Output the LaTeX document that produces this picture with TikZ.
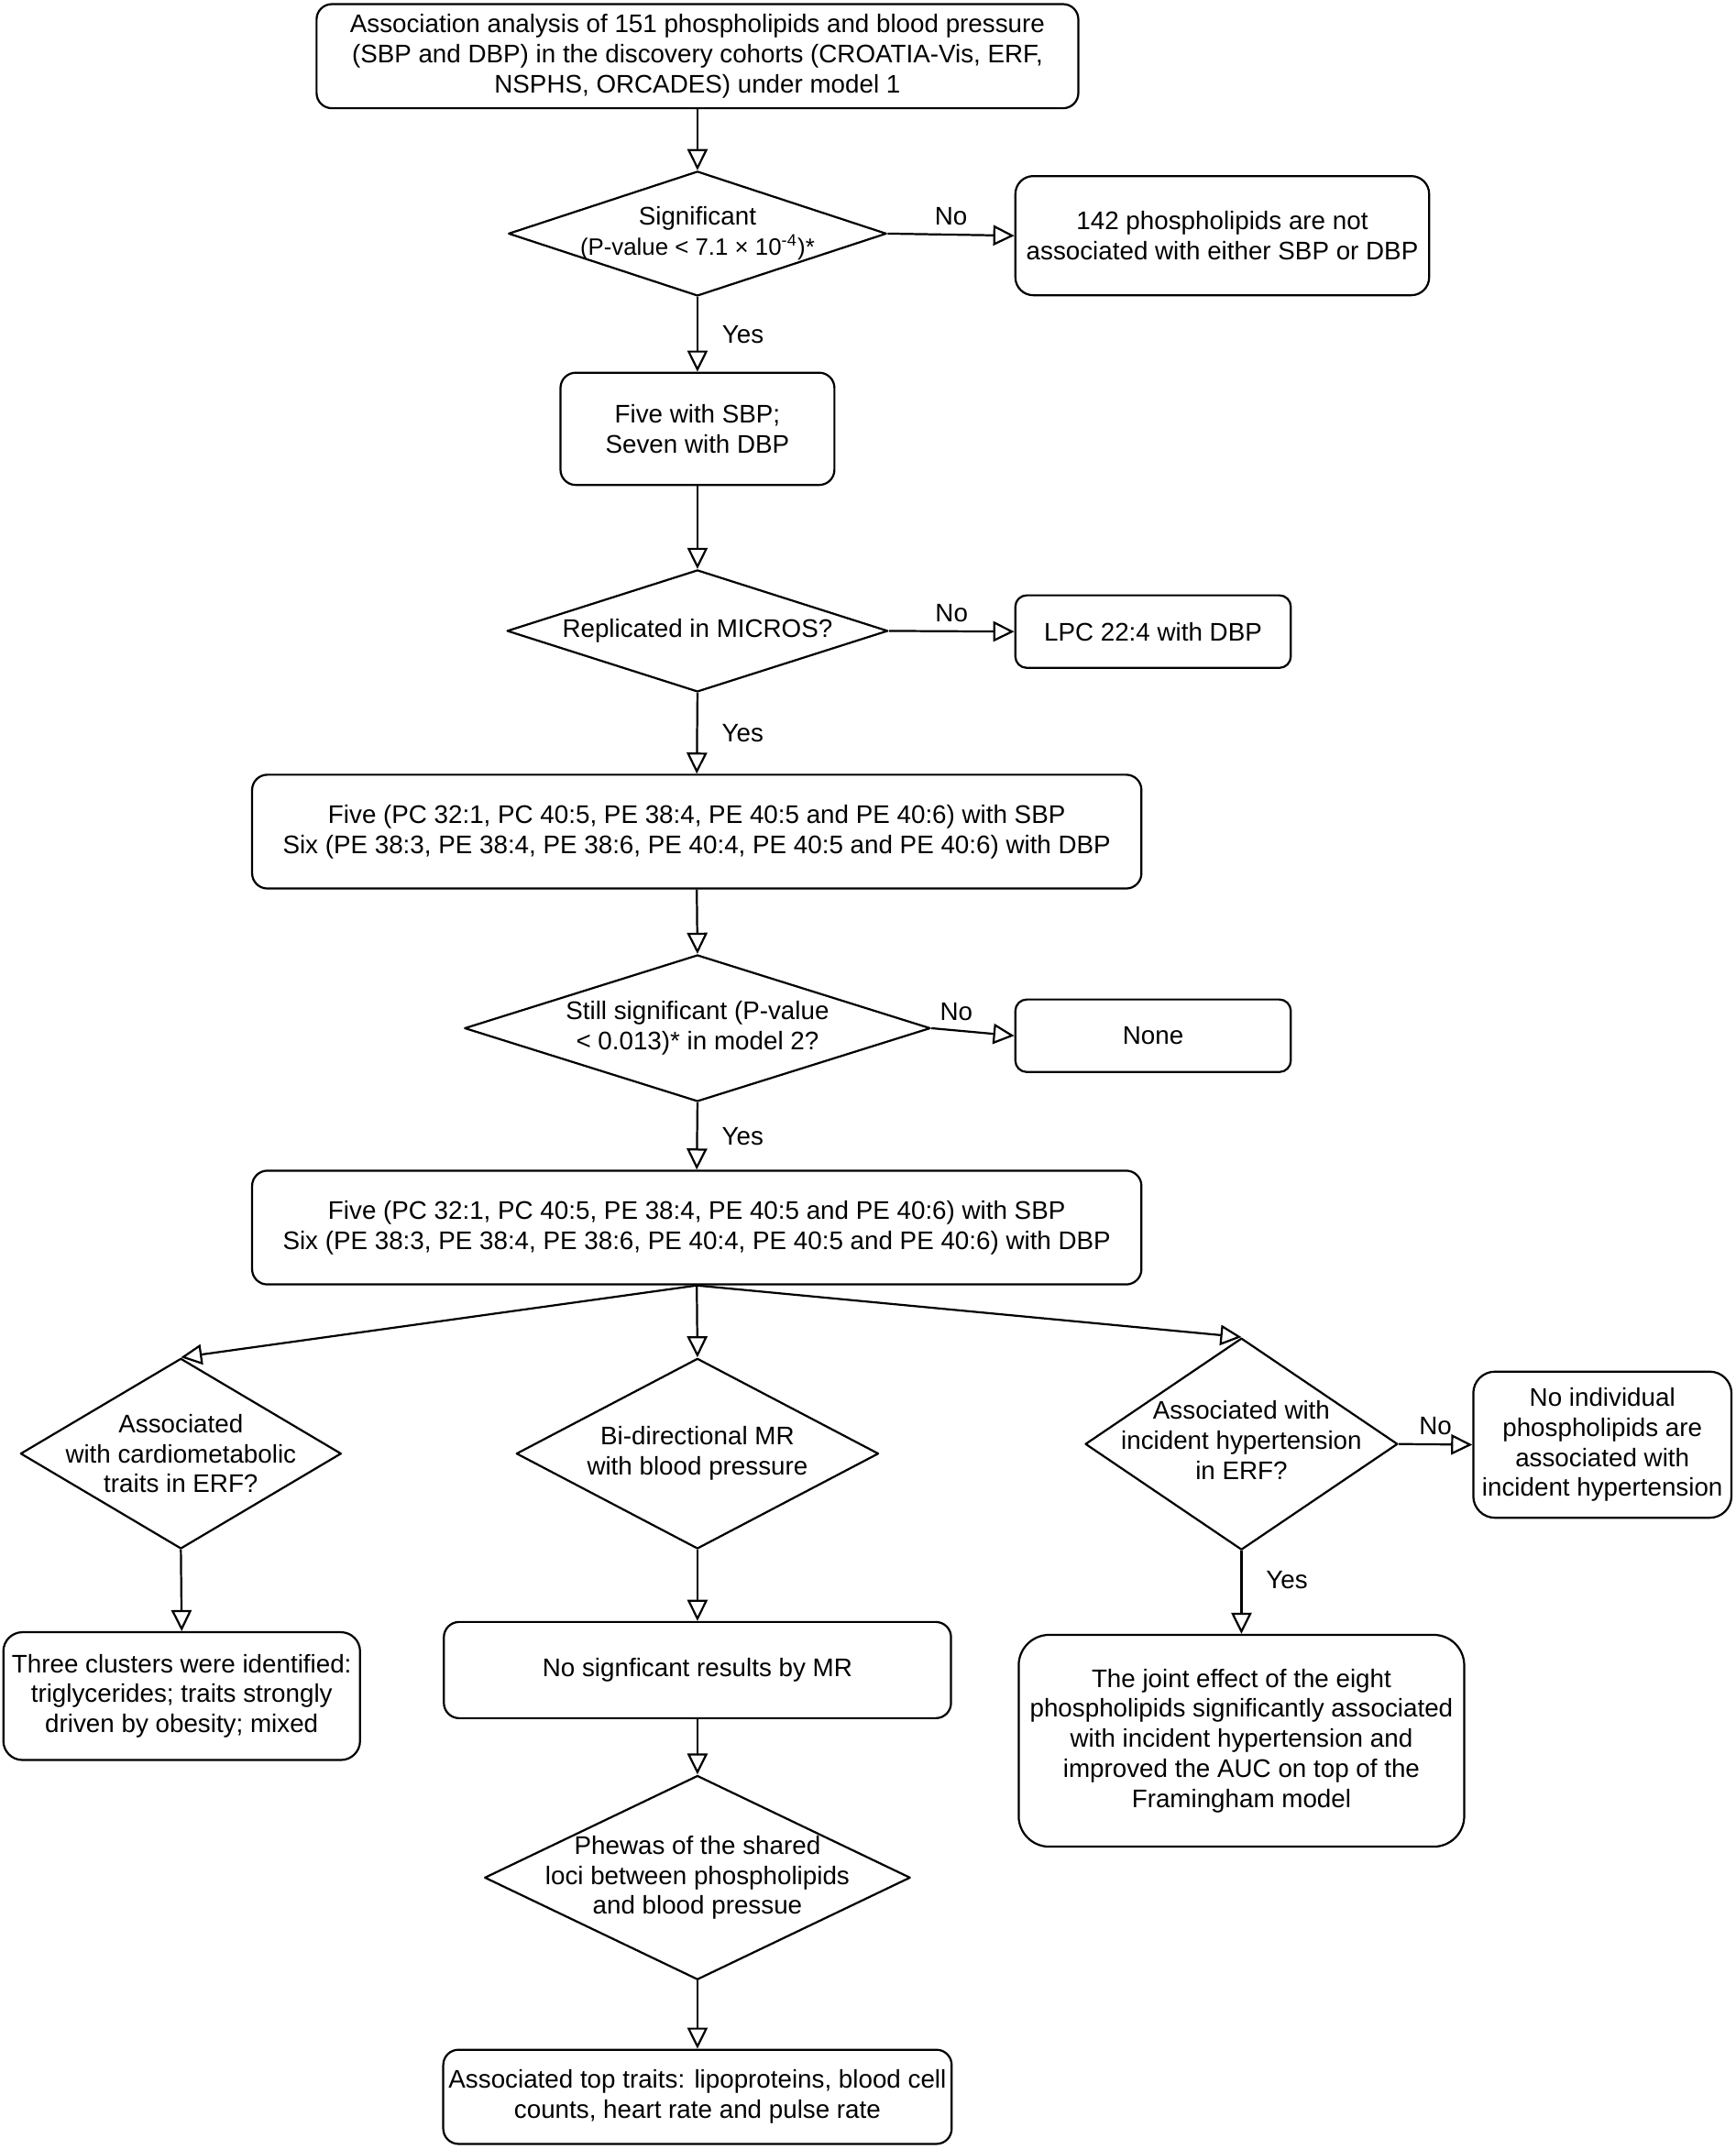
\documentclass[tikz,border=0pt]{standalone}
\usepackage{fontspec}
\setmainfont{Liberation Sans}
\usetikzlibrary{arrows.meta,shapes.geometric}

\begin{document}
\begin{tikzpicture}[x=0.5382pt,y=-0.5382pt,line width=0.8pt,join=round,
  font=\fontsize{10}{11.8}\selectfont,
  box/.style={draw,rounded corners=6pt,align=center,inner sep=2pt},
  test/.style={draw,diamond,inner sep=0pt},
  flow/.style={-{Triangle[open,length=8.3pt,width=8pt]}}] % Phospholipid flow
       \useasboundingbox (0,0) rectangle (1266.9,1568.6);
       \node[box,minimum width=299.2pt,minimum height=40.9pt] (start) at (509,41) {Association analysis of 151 phospholipids and blood pressure\\(SBP and DBP) in the discovery cohorts (CROATIA-Vis, ERF,\\NSPHS, ORCADES) under model 1};
       \node[test,minimum width=148.5pt,minimum height=49pt,label={[align=center]center:Significant\\\fontsize{9.3}{11}\selectfont(P-value < 7.1 × 10\textsuperscript{-4})*}] (sig) at (509,170.5) {};
       \node[box,rounded corners=7pt,minimum width=162.5pt,minimum height=46.8pt] (notsig) at (892,172) {142 phospholipids are not\\associated with either SBP or DBP};
       \node[box,minimum width=107.6pt,minimum height=44.1pt] (five) at (509,313) {Five with SBP;\\Seven with DBP};
       \node[test,minimum width=149.6pt,minimum height=47.9pt,label=center:Replicated in MICROS?] (micros) at (509,460.5) {};
       \node[box,rounded corners=4.5pt,minimum width=108.2pt,minimum height=28.5pt] (lpc) at (841.5,461) {LPC 22:4 with DBP};
       \node[box,minimum width=349.3pt,minimum height=44.7pt] (repl) at (508.5,607) {Five (PC 32:1, PC 40:5, PE 38:4, PE 40:5 and PE 40:6) with SBP\\Six (PE 38:3, PE 38:4, PE 38:6, PE 40:4, PE 40:5 and PE 40:6) with DBP};
       \node[test,minimum width=183pt,minimum height=57.6pt,label={[align=center]center:Still significant (P-value\\< 0.013)* in model 2?}] (model) at (509,750.5) {};
       \node[box,rounded corners=4.5pt,minimum width=108.2pt,minimum height=28.5pt] (none) at (841.5,756) {None};
       \node[box,minimum width=349.3pt,minimum height=44.7pt] (still) at (508.5,896) {Five (PC 32:1, PC 40:5, PE 38:4, PE 40:5 and PE 40:6) with SBP\\Six (PE 38:3, PE 38:4, PE 38:6, PE 40:4, PE 40:5 and PE 40:6) with DBP};
       \node[test,minimum width=126pt,minimum height=74.8pt,label={[align=center]center:Associated\\with cardiometabolic\\traits in ERF?}] (cardio) at (132,1061) {};
       \node[test,minimum width=142.3pt,minimum height=74.8pt,label={[align=center]center:Bi-directional MR\\with blood pressure}] (bimr) at (509,1061) {};
       \node[test,minimum width=122.7pt,minimum height=83.2pt,label={[align=center,yshift=1.5pt]center:Associated with\\incident hypertension\\in ERF?}] (incid) at (906,1054) {};
       \node[box,rounded corners=8.5pt,minimum width=101.4pt,minimum height=57.4pt] (noind) at (1169.4,1054.5) {No individual\\phospholipids are\\associated with\\incident hypertension};
       \node[box,rounded corners=7.5pt,minimum width=140.1pt,minimum height=50.2pt] (clust) at (132.6,1238) {Three clusters were identified:\\triglycerides; traits strongly\\driven by obesity; mixed};
       \node[box,minimum width=199.2pt,minimum height=37.8pt] (nomr) at (509,1219) {No signficant results by MR};
       \node[box,rounded corners=12pt,minimum width=175pt,minimum height=83.2pt] (joint) at (906,1270.6) {The joint effect of the eight\\phospholipids significantly associated\\with incident hypertension and\\improved the AUC on top of the\\Framingham model};
       \node[test,minimum width=167.2pt,minimum height=80.2pt,label={[align=center]center:Phewas of the shared\\loci between phospholipids\\and blood pressue}] (phewas) at (509,1370.5) {};
       \node[box,minimum width=199.7pt,minimum height=37pt] (traits) at (509,1530.5) {Associated top traits: lipoproteins, blood cell\\counts, heart rate and pulse rate};
       \draw[flow] (start.south) -- (sig.north);
       \draw[flow] (sig.east) -- node[above]{No} (notsig.west);
       \draw[flow] (sig.south) -- node[right=6pt]{Yes} (five.north);
       \draw[flow] (five.south) -- (micros.north);
       \draw[flow] (micros.east) -- node[above]{No} (lpc.west);
       \draw[flow] (micros.south) -- node[right=6pt]{Yes} (repl.north);
       \draw[flow] (repl.south) -- (model.north);
       \draw[flow] (model.east) -- node[above,pos=0.3]{No} (none.west);
       \draw[flow] (model.south) -- node[right=6pt]{Yes} (still.north);
       \draw[flow] (still.south) -- (cardio.north);
       \draw[flow] (still.south) -- (bimr.north);
       \draw[flow] (still.south) -- (incid.north);
       \draw[flow] (cardio.south) -- (clust.north);
       \draw[flow] (bimr.south) -- (nomr.north);
       \draw[flow] (nomr.south) -- (phewas.north);
       \draw[flow] (phewas.south) -- (traits.north);
       \draw[flow] (incid.east) -- node[above]{No} (noind.west);
       \draw[flow] (incid.south) -- node[right=6pt,pos=0.35]{Yes} (joint.north);
\end{tikzpicture}
\end{document}
